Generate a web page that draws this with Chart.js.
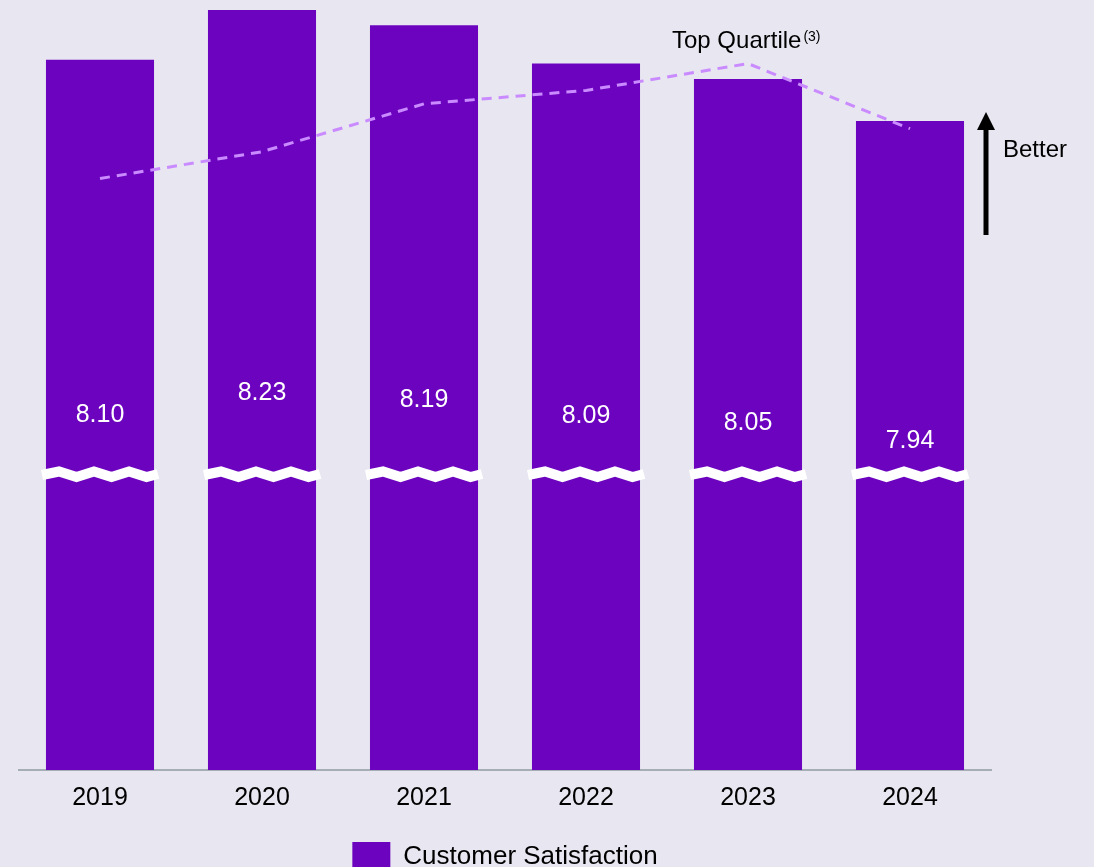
<!DOCTYPE html>
<html lang="en">
<head>
  <meta charset="UTF-8">
  <title>Customer Satisfaction</title>
  <script src="https://cdn.jsdelivr.net/npm/chart.js"></script>
  <style>
    body { margin: 0; overflow: hidden; background: #e8e6f0; }
    #wrap { width: 1094px; height: 882px; }
  </style>
</head>
<body>
  <div id="wrap"><canvas id="myChart"></canvas></div>

  <script>
    // dati
    const years = ['2019', '2020', '2021', '2022', '2023', '2024'];
    const satisfaction = [8.10, 8.23, 8.19, 8.09, 8.05, 7.94];
    const topQuartile = [7.79, 7.86, 7.985, 8.02, 8.09, 7.92];
    const valueLabels = ['8.10', '8.23', '8.19', '8.09', '8.05', '7.94'];

    const PURPLE = '#6c04bf';
    const FONT = '"Liberation Sans", Arial, sans-serif';
    Chart.defaults.font.family = FONT;
    Chart.defaults.color = '#000';

    // linea spezzata bianca, etichette e freccia
    const extras = {
      id: 'extras',
      afterDatasetsDraw(chart) {
        const ctx = chart.ctx;
        const area = chart.chartArea;
        const bars = chart.getDatasetMeta(1).data;
        const yBreak = area.bottom - 296;

        ctx.save();
        ctx.strokeStyle = '#fff';
        ctx.lineWidth = 10;
        ctx.lineCap = 'butt';
        ctx.lineJoin = 'miter';
        bars.forEach(bar => {
          const x0 = bar.x - 58, x1 = bar.x + 58;
          ctx.beginPath();
          ctx.moveTo(x0, yBreak + 1);
          let x = x0 + 17, up = true;
          while (x < x1) {
            ctx.lineTo(x, up ? yBreak - 2.5 : yBreak + 3);
            x += 17.5;
            up = !up;
          }
          ctx.lineTo(x1, yBreak);
          ctx.stroke();
        });

        // etichette valori
        ctx.fillStyle = '#fff';
        ctx.font = '25px ' + FONT;
        ctx.textAlign = 'center';
        ctx.textBaseline = 'middle';
        bars.forEach((bar, i) => {
          const y = 389 + 0.432 * (bar.y - area.top);
          ctx.fillText(valueLabels[i], bar.x, y);
        });

        // Top Quartile
        ctx.fillStyle = '#000';
        ctx.textAlign = 'left';
        ctx.textBaseline = 'alphabetic';
        ctx.font = '24px ' + FONT;
        ctx.fillText('Top Quartile', 672, 48);
        const w = ctx.measureText('Top Quartile').width;
        ctx.font = '14px ' + FONT;
        ctx.fillText('(3)', 672 + w + 2, 41);

        // freccia Better
        ctx.fillRect(983.5, 126, 5, 109);
        ctx.beginPath();
        ctx.moveTo(986, 112);
        ctx.lineTo(995, 130);
        ctx.lineTo(977, 130);
        ctx.closePath();
        ctx.fill();
        ctx.font = '24px ' + FONT;
        ctx.textBaseline = 'middle';
        ctx.fillText('Better', 1003, 150);
        ctx.restore();
      }
    };

    const ctx = document.getElementById('myChart').getContext('2d');
    const myChart = new Chart(ctx, {
      data: {
        labels: years,
        datasets: [
          {
            type: 'line',
            label: 'Top Quartile',
            data: topQuartile,
            borderColor: '#c98bff',
            borderWidth: 3,
            borderDash: [10, 7],
            pointRadius: 0,
            tension: 0,
            fill: false,
            order: 0
          },
          {
            type: 'bar',
            label: 'Customer Satisfaction',
            data: satisfaction,
            backgroundColor: PURPLE,
            barPercentage: 0.667,
            categoryPercentage: 1,
            order: 1
          }
        ]
      },
      options: {
        responsive: true,
        maintainAspectRatio: false,
        animation: false,
        layout: { padding: { left: 19, right: 103, top: 0, bottom: 0 } },
        scales: {
          x: {
            grid: { display: false },
            border: { display: true, color: '#a5aeb5', width: 2 },
            ticks: { font: { size: 25 }, color: '#000', padding: 5 },
            afterFit: s => { s.height = 62; }
          },
          y: {
            display: false,
            min: 6.246,
            max: 8.256
          }
        },
        plugins: {
          tooltip: { enabled: false },
          legend: {
            position: 'bottom',
            labels: {
              boxWidth: 38,
              boxHeight: 30,
              font: { size: 26 },
              color: '#000',
              filter: item => item.text === 'Customer Satisfaction'
            }
          }
        }
      },
      plugins: [extras]
    });
  </script>
</body>
</html>
